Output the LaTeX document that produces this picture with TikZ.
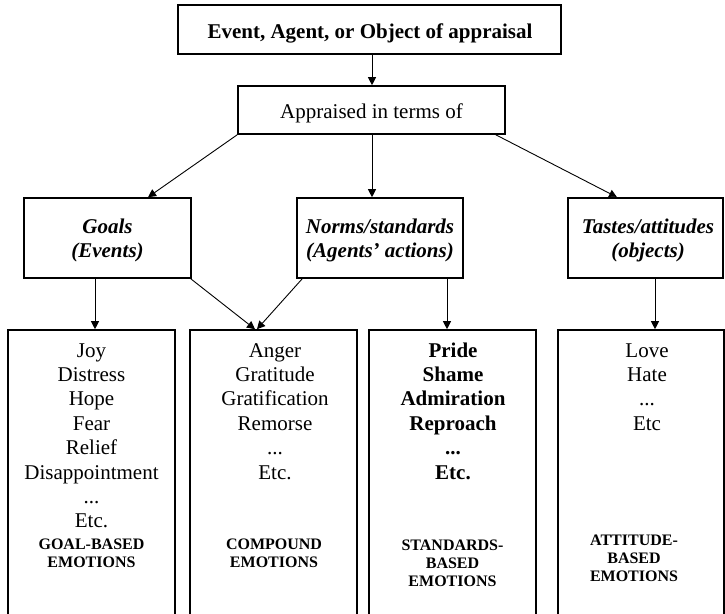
\documentclass[tikz,border=0pt]{standalone}
\usepackage{fontspec}
\setmainfont{Liberation Serif}
\usetikzlibrary{arrows.meta}
\begin{document}
\begin{tikzpicture}[x=1pt,y=1pt,
  frame/.style={draw, line width=1.6pt, inner sep=0pt},
  arr/.style={-{Triangle[length=8pt,width=8pt]}, line width=0.9pt},
  head/.style={font=\fontsize{21}{24}\selectfont\bfseries, anchor=base},
  plain/.style={font=\fontsize{21}{24}\selectfont, anchor=base},
  kind/.style={font=\fontsize{21}{24}\selectfont\bfseries\itshape, align=center, anchor=base},
  list/.style={font=\fontsize{21}{24.4}\selectfont, align=center, anchor=base},
  boldlist/.style={font=\fontsize{21}{24.4}\selectfont\bfseries, align=center, anchor=base},
  tag/.style={font=\fontsize{16}{18}\selectfont\bfseries, align=center, anchor=base}]
\useasboundingbox (0,0) rectangle (725,-613);

% top of the hierarchy
\node[frame, minimum width=383, minimum height=49] (top) at (369.5,-29.5) {};
\node[head] (toptxt) at (370,-38) {Event, Agent, or Object of appraisal};
\node[frame, minimum width=267, minimum height=48] (app) at (371.5,-110) {};
\node[plain] (apptxt) at (371.5,-118) {Appraised in terms of};

% appraisal criteria (multi-line texts are placed by their last baseline)
\node[frame, minimum width=167, minimum height=80] (goals) at (107.5,-238) {};
\node[kind] (goalstxt) at (107.5,-257) {Goals\\(Events)};
\node[frame, minimum width=166, minimum height=80] (norms) at (380,-238) {};
\node[kind] (normstxt) at (380,-257) {Norms/standards\\(Agents’ actions)};
\node[frame, minimum width=155, minimum height=80] (tastes) at (645.5,-238) {};
\node[kind] (tastestxt) at (648,-257) {Tastes/attitudes\\(objects)};

% emotion groups
\node[frame, minimum width=167, minimum height=290] (b1) at (91.5,-475) {};
\node[frame, minimum width=167, minimum height=290] (b2) at (273.5,-475) {};
\node[frame, minimum width=167, minimum height=290] (b3) at (452.5,-475) {};
\node[frame, minimum width=166, minimum height=290] (b4) at (641,-475) {};

\node[list] (l1) at (91.5,-527.8) {Joy\\Distress\\Hope\\Fear\\Relief\\Disappointment\\...\\Etc.};
\node[tag] (t1) at (91.5,-567) {GOAL-BASED\\EMOTIONS};
\node[list] (l2) at (275,-479) {Anger\\Gratitude\\Gratification\\Remorse\\...\\Etc.};
\node[tag] (t2) at (274,-567) {COMPOUND\\EMOTIONS};
\node[boldlist] (l3) at (453,-479) {Pride\\Shame\\Admiration\\Reproach\\...\\Etc.};
\node[tag] (t3) at (452.5,-586) {STANDARDS-\\BASED\\EMOTIONS};
\node[list] (l4) at (647,-430.2) {Love\\Hate\\...\\Etc};
\node[tag] (t4) at (634,-581) {ATTITUDE-\\BASED\\EMOTIONS};

% connectors
\draw[arr] ([xshift=2.5]top.south) -- ([xshift=0.5]app.north);
\draw[arr] (app.south west) -- ([xshift=40.5]goals.north);
\draw[arr] ([xshift=0.5]app.south) -- ([xshift=-8]norms.north);
\draw[arr] ([xshift=-10]app.south east) -- ([xshift=-28.5]tastes.north);
\draw[arr] ([xshift=-12.5]goals.south) -- ([xshift=3.5]b1.north);
\draw[arr] ([xshift=-1]goals.south east) -- ([xshift=-18.5]b2.north);
\draw[arr] ([xshift=6]norms.south west) -- ([xshift=-16.5]b2.north);
\draw[arr] ([xshift=67]norms.south) -- ([xshift=-5.5]b3.north);
\draw[arr] ([xshift=9.5]tastes.south) -- ([xshift=14]b4.north);
\end{tikzpicture}
\end{document}
